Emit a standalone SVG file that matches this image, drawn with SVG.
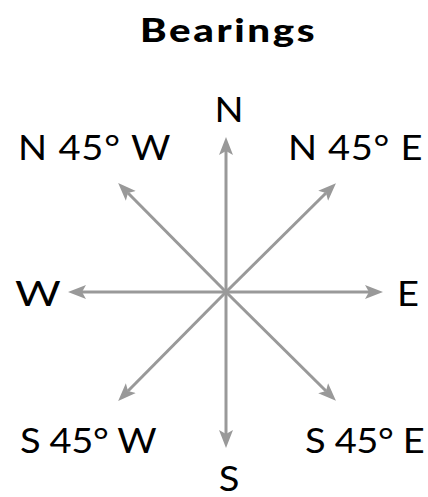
<svg xmlns="http://www.w3.org/2000/svg" width="428" height="497" viewBox="0 0 428 497">
<style>
text{font-family:Lato,"Open Sans","DejaVu Sans",sans-serif;fill:#000}
.t{font-size:33px;font-weight:900}
.l{font-size:34px}
.a{stroke:#999;stroke-width:3;fill:none;marker-end:url(#h)}
</style>
<defs>
<marker id="h" markerUnits="userSpaceOnUse" markerWidth="20" markerHeight="16" viewBox="0 -8 20 16" refX="4" refY="0" orient="auto">
<path d="M0,-7 L18,0 L0,7 L4,0 z" fill="#999"/>
</marker>
</defs>
<rect width="428" height="497" fill="#fff"/>
<g id="title"><text class="t" x="0" y="0" transform="translate(140 42) scale(1.22 1)" textLength="143" lengthAdjust="spacing">Bearings</text></g>
<g id="connectors">
<line class="a" x1="226" y1="292" x2="226" y2="151"/>
<line class="a" x1="226" y1="292" x2="226" y2="434"/>
<line class="a" x1="226" y1="292" x2="82" y2="292"/>
<line class="a" x1="226" y1="292" x2="369" y2="292"/>
<line class="a" x1="226" y1="292" x2="128" y2="193"/>
<line class="a" x1="226" y1="292" x2="326" y2="193"/>
<line class="a" x1="226" y1="292" x2="128" y2="391"/>
<line class="a" x1="226" y1="292" x2="326" y2="391"/>
</g>
<g id="n"><text class="l" x="0" y="0" transform="translate(229 122) scale(1.12 1)" text-anchor="middle">N</text></g>
<g id="nw"><text class="l" x="0" y="0" transform="translate(18 160) scale(1.12 1)" textLength="136" lengthAdjust="spacing">N 45° W</text></g>
<g id="ne"><text class="l" x="0" y="0" transform="translate(288 160) scale(1.12 1)" textLength="120" lengthAdjust="spacing">N 45° E</text></g>
<g id="w"><text class="l" x="0" y="0" transform="translate(15 306) scale(1.3 1)">W</text></g>
<g id="e"><text class="l" x="0" y="0" transform="translate(397 306) scale(1.12 1)">E</text></g>
<g id="sw"><text class="l" x="0" y="0" transform="translate(20 453) scale(1.12 1)" textLength="122" lengthAdjust="spacing">S 45° W</text></g>
<g id="se"><text class="l" x="0" y="0" transform="translate(305 453) scale(1.12 1)" textLength="107" lengthAdjust="spacing">S 45° E</text></g>
<g id="s"><text class="l" x="0" y="0" transform="translate(229 491) scale(1.12 1)" text-anchor="middle">S</text></g>
</svg>
